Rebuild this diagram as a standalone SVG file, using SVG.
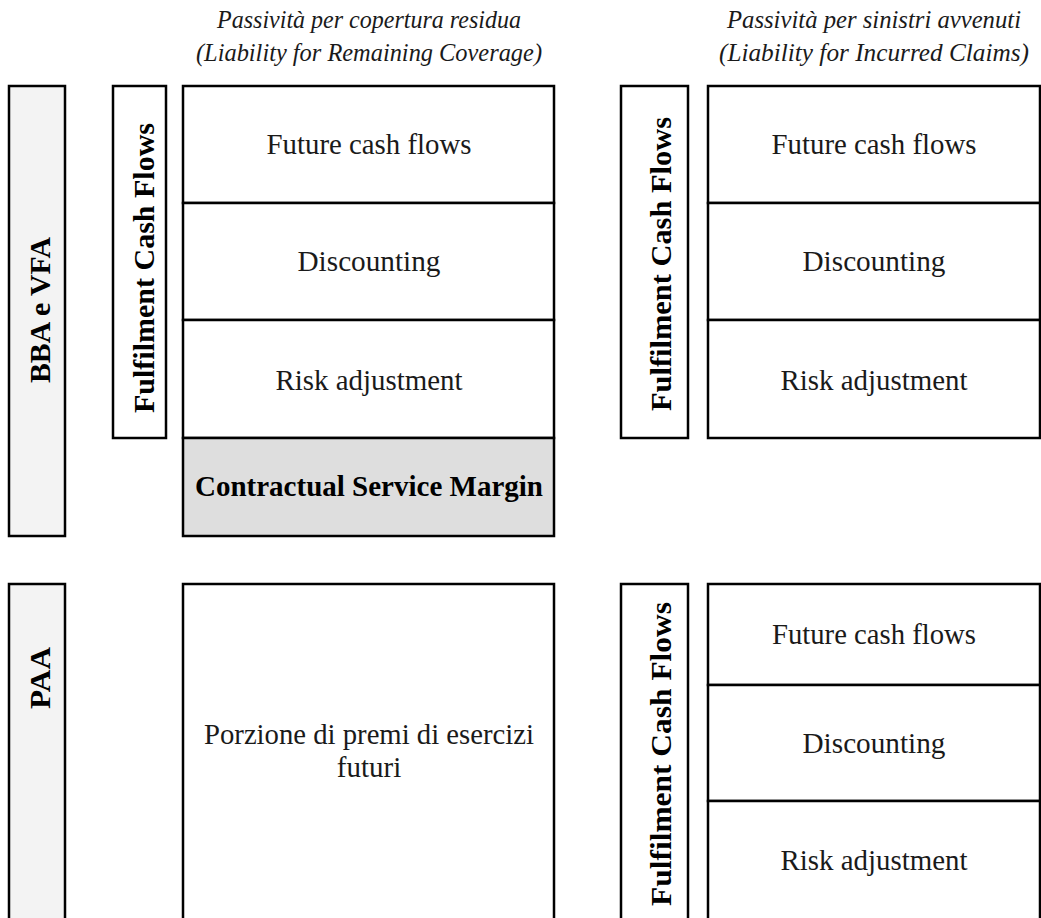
<svg xmlns="http://www.w3.org/2000/svg" width="1041" height="918" viewBox="0 0 1041 918">
<style>
  .box{fill:#ffffff;stroke:#000000;stroke-width:2.5}
  .side{fill:#f3f3f3;stroke:#000000;stroke-width:2.5}
  .csm{fill:#dedede;stroke:#000000;stroke-width:2.5}
  .t{font-family:"Liberation Serif","DejaVu Serif",serif;font-size:29px;fill:#1a1a1a;text-anchor:middle}
  .b{font-family:"Liberation Serif","DejaVu Serif",serif;font-size:29px;font-weight:bold;fill:#000000;text-anchor:middle}
  .h{font-family:"Liberation Serif","DejaVu Serif",serif;font-size:25px;font-style:italic;fill:#1a1a1a;text-anchor:middle}
</style>
<rect width="1041" height="918" fill="#ffffff"/>

<g id="header-lrc">
  <text class="h" x="369" y="28" textLength="304" lengthAdjust="spacingAndGlyphs">Passività per copertura residua</text>
  <text class="h" x="369" y="61" textLength="346" lengthAdjust="spacingAndGlyphs">(Liability for Remaining Coverage)</text>
</g>
<g id="header-lic">
  <text class="h" x="874" y="28" textLength="294" lengthAdjust="spacingAndGlyphs">Passività per sinistri avvenuti</text>
  <text class="h" x="874" y="61" textLength="310" lengthAdjust="spacingAndGlyphs">(Liability for Incurred Claims)</text>
</g>

<g id="bba-vfa">
  <rect class="side" x="9" y="86" width="56" height="450"/>
  <text class="b" transform="translate(50,310) rotate(-90)" textLength="146" lengthAdjust="spacingAndGlyphs">BBA e VFA</text>
</g>

<g id="fcf-lrc">
  <rect class="box" x="113" y="86" width="53" height="352"/>
  <text class="b" transform="translate(154,268) rotate(-90)" textLength="290" lengthAdjust="spacingAndGlyphs">Fulfilment Cash Flows</text>
</g>

<g id="lrc-future">
  <rect class="box" x="183" y="86" width="371" height="117"/>
  <text class="t" x="369" y="154" textLength="205" lengthAdjust="spacingAndGlyphs">Future cash flows</text>
</g>
<g id="lrc-discounting">
  <rect class="box" x="183" y="203" width="371" height="117"/>
  <text class="t" x="369" y="271" textLength="143" lengthAdjust="spacingAndGlyphs">Discounting</text>
</g>
<g id="lrc-risk">
  <rect class="box" x="183" y="320" width="371" height="118"/>
  <text class="t" x="369" y="390" textLength="187" lengthAdjust="spacingAndGlyphs">Risk adjustment</text>
</g>
<g id="lrc-csm">
  <rect class="csm" x="183" y="438" width="371" height="98"/>
  <text class="b" x="369" y="496" textLength="348" lengthAdjust="spacingAndGlyphs">Contractual Service Margin</text>
</g>

<g id="fcf-lic">
  <rect class="box" x="621" y="86" width="67" height="352"/>
  <text class="b" transform="translate(671,264) rotate(-90)" textLength="294" lengthAdjust="spacingAndGlyphs">Fulfilment Cash Flows</text>
</g>
<g id="lic-future">
  <rect class="box" x="708" y="86" width="332" height="117"/>
  <text class="t" x="874" y="154" textLength="205" lengthAdjust="spacingAndGlyphs">Future cash flows</text>
</g>
<g id="lic-discounting">
  <rect class="box" x="708" y="203" width="332" height="117"/>
  <text class="t" x="874" y="271" textLength="143" lengthAdjust="spacingAndGlyphs">Discounting</text>
</g>
<g id="lic-risk">
  <rect class="box" x="708" y="320" width="332" height="118"/>
  <text class="t" x="874" y="390" textLength="187" lengthAdjust="spacingAndGlyphs">Risk adjustment</text>
</g>

<g id="paa">
  <rect class="side" x="9" y="584" width="56" height="360"/>
  <text class="b" transform="translate(50,678) rotate(-90)" textLength="62" lengthAdjust="spacingAndGlyphs">PAA</text>
</g>
<g id="paa-lrc">
  <rect class="box" x="183" y="584" width="371" height="360"/>
  <text class="t" x="369" y="744" textLength="330" lengthAdjust="spacingAndGlyphs">Porzione di premi di esercizi</text>
  <text class="t" x="369" y="777">futuri</text>
</g>

<g id="paa-fcf-lic">
  <rect class="box" x="621" y="584" width="67" height="360"/>
  <text class="b" transform="translate(671,754) rotate(-90)" textLength="304" lengthAdjust="spacingAndGlyphs">Fulfilment Cash Flows</text>
</g>
<g id="paa-lic-future">
  <rect class="box" x="708" y="584" width="332" height="101"/>
  <text class="t" x="874" y="644" textLength="204" lengthAdjust="spacingAndGlyphs">Future cash flows</text>
</g>
<g id="paa-lic-discounting">
  <rect class="box" x="708" y="685" width="332" height="116"/>
  <text class="t" x="874" y="753" textLength="143" lengthAdjust="spacingAndGlyphs">Discounting</text>
</g>
<g id="paa-lic-risk">
  <rect class="box" x="708" y="801" width="332" height="140"/>
  <text class="t" x="874" y="870" textLength="187" lengthAdjust="spacingAndGlyphs">Risk adjustment</text>
</g>

<g id="connectors"></g>
</svg>
